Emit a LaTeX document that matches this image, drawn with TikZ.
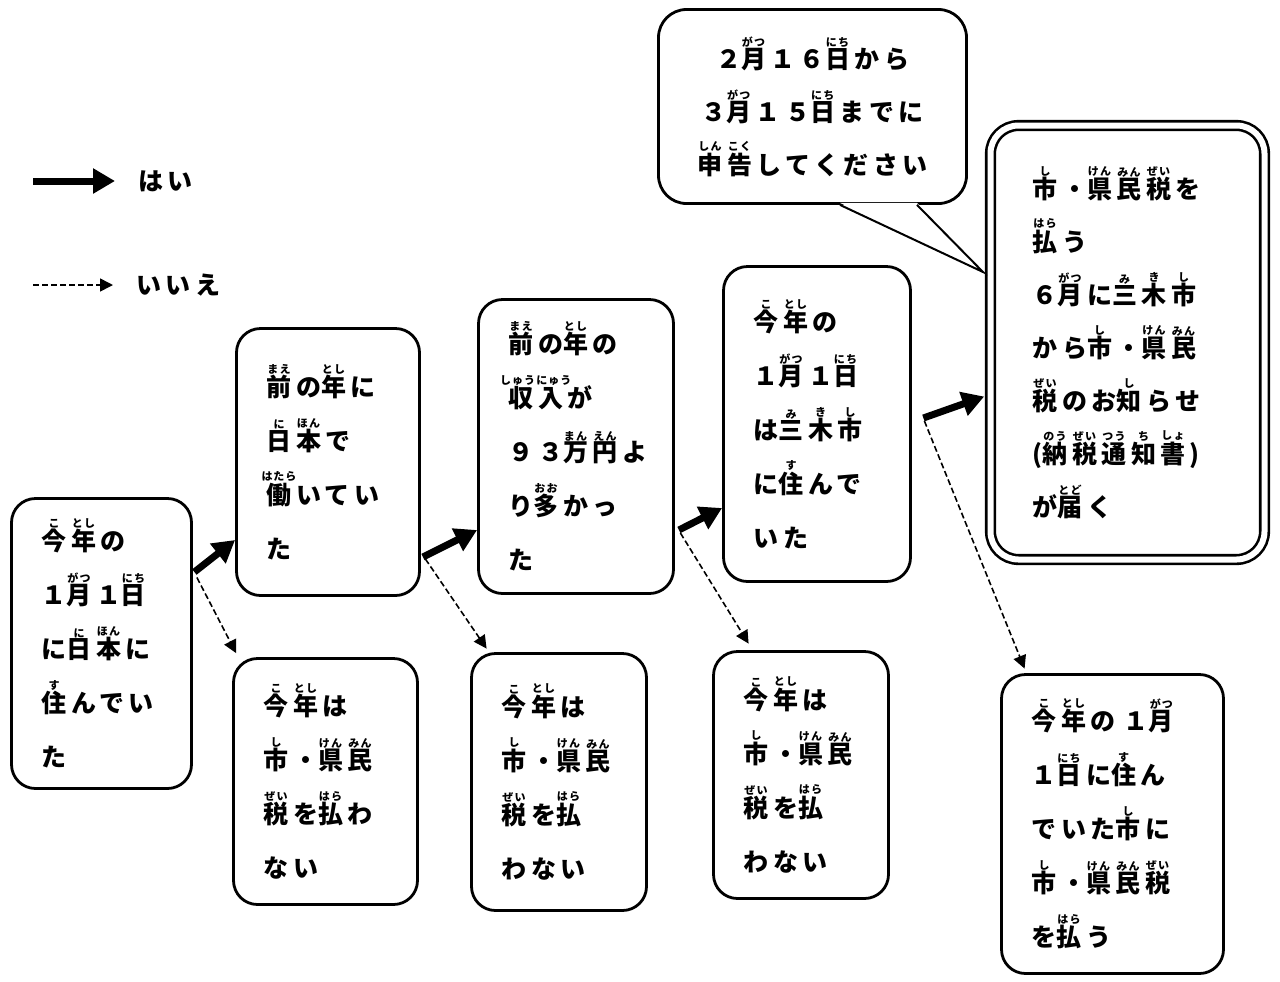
\documentclass[tikz,border=0pt]{standalone}
\usepackage{fontspec}
\usepackage{tikz}
\usetikzlibrary{arrows.meta}
\newfontfamily\jp{Noto Sans CJK JP}[LetterSpace=18]
\newfontfamily\jprb{Noto Sans CJK JP}[LetterSpace=10]
% kanji with its reading above
\newcommand\rb[2]{\leavevmode\vbox{\offinterlineskip\halign{\hfil##\hfil\cr\makebox[0pt]{\jprb\bfseries\fontsize{5.5}{6}\selectfont #2}\cr\noalign{\kern0.5pt}#1\cr}}\kern2.25pt}

\begin{document}
\begin{tikzpicture}[x=0.5pt,y=-0.5pt,
  jpfont/.style={font=\jp\bfseries\fontsize{12.5}{27}\selectfont},
  qbox/.style={draw,line width=1.4pt,rounded corners=12pt,jpfont,align=left,inner xsep=15pt,inner ysep=0pt},
  resbox/.style={qbox,double,double distance=3pt,line width=1.3pt,rounded corners=14pt,inner xsep=21pt},
  yesarr/.style={-{Triangle[length=11pt,width=12pt]},line width=3.5pt},
  noarr/.style={-{Triangle[length=6.5pt,width=6.5pt]},line width=0.8pt,dash pattern=on 3pt off 1.5pt},
  legend/.style={jpfont,inner xsep=11.5pt}]
\useasboundingbox (0,0) rectangle (1280,981);

% legend
\coordinate (yesS) at (33,181);
\node[legend,anchor=west] (yesL) at (115,181) {はい};
\coordinate (noS) at (33,285);
\node[legend,anchor=west] (noL) at (113,285) {いいえ};
\draw[yesarr] (yesS) -- (yesL);
\draw[noarr] (noS) -- (noL);

% questions
\node[qbox,text width=60pt,minimum height=145pt] (injapan) at (101.5,643.5) {\rb{今}{こ}\rb{年}{とし}の\\１\rb{月}{がつ}１\rb{日}{にち}\\に\rb{日}{に}\rb{本}{ほん}に\\\rb{住}{す}んでい\\た};
\node[qbox,text width=61.5pt,minimum height=133.5pt] (worked) at (328,462) {\rb{前}{まえ}の\rb{年}{とし}に\\\rb{日}{に}\rb{本}{ほん}で\\\rb{働}{はたら}いてい\\た};
\node[qbox,text width=67.5pt,minimum height=147pt] (income) at (576,446.5) {\rb{前}{まえ}の\rb{年}{とし}の\\\rb{収入}{しゅうにゅう}が\\９３\rb{万}{まん}\rb{円}{えん}よ\\り\rb{多}{おお}かっ\\た};
\node[qbox,text width=63.5pt,minimum height=157.5pt] (inmiki) at (817,424) {\rb{今}{こ}\rb{年}{とし}の\\１\rb{月}{がつ}１\rb{日}{にち}\\は\rb{三}{み}\rb{木}{き}\rb{市}{し}\\に\rb{住}{す}んで\\いた};
\node[resbox,text width=95pt,minimum height=217pt,font=\jp\bfseries\fontsize{12.5}{26.5}\selectfont] (pay) at (1127.5,342.5) {\rb{市}{し}・\rb{県}{けん}\rb{民}{みん}\rb{税}{ぜい}を\\\rb{払}{はら}う\\６\rb{月}{がつ}に\rb{三}{み}\rb{木}{き}\rb{市}{し}\\から\rb{市}{し}・\rb{県}{けん}\rb{民}{みん}\\\rb{税}{ぜい}のお\rb{知}{し}らせ\\(\rb{納}{のう}\rb{税}{ぜい}\rb{通}{つう}\rb{知}{ち}\rb{書}{しょ})\\が\rb{届}{とど}く};

% answers
\node[qbox,text width=62pt,minimum height=123pt] (nopay1) at (325.5,781.5) {\rb{今}{こ}\rb{年}{とし}は\\\rb{市}{し}・\rb{県}{けん}\rb{民}{みん}\\\rb{税}{ぜい}を\rb{払}{はら}わ\\ない};
\node[qbox,text width=57.5pt,minimum height=128.5pt] (nopay2) at (559,782) {\rb{今}{こ}\rb{年}{とし}は\\\rb{市}{し}・\rb{県}{けん}\rb{民}{みん}\\\rb{税}{ぜい}を\rb{払}{はら}\\わない};
\node[qbox,text width=57.5pt,minimum height=123.5pt] (nopay3) at (801,775) {\rb{今}{こ}\rb{年}{とし}は\\\rb{市}{し}・\rb{県}{けん}\rb{民}{みん}\\\rb{税}{ぜい}を\rb{払}{はら}\\わない};
\node[qbox,text width=81pt,minimum height=149.5pt] (payother) at (1112.5,824) {\rb{今}{こ}\rb{年}{とし}の １\rb{月}{がつ}\\１\rb{日}{にち}に\rb{住}{す}ん\\でいた\rb{市}{し}に\\\rb{市}{し}・\rb{県}{けん}\rb{民}{みん}\rb{税}{ぜい}\\を\rb{払}{はら}う};

% callout
\node[qbox,align=center,text width=124pt,minimum height=97pt,rounded corners=14pt,font=\jp\bfseries\fontsize{12.5}{26.5}\selectfont] (notice) at (812.5,106.5) {２\rb{月}{がつ}１６\rb{日}{にち}から\\３\rb{月}{がつ}１５\rb{日}{にち}までに\\\rb{申}{しん}\rb{告}{こく}してください};
\coordinate (tip) at (983,272);
\fill[white] ([xshift=13.75pt,yshift=1pt]notice.south) -- (tip) -- ([xshift=52.25pt,yshift=1pt]notice.south) -- cycle;
\draw[line width=1pt] ([xshift=13.75pt]notice.south) -- (tip) -- ([xshift=52.25pt]notice.south);

% yes
\draw[yesarr] ([xshift=0.75pt,yshift=35.75pt]injapan.east) -- ([yshift=-39pt]worked.west);
\draw[yesarr] ([xshift=1pt,yshift=-47.5pt]worked.east) -- ([yshift=-41.75pt]income.west);
\draw[yesarr] ([xshift=2pt,yshift=-41.75pt]income.east) -- ([yshift=-42pt]inmiki.west);
\draw[yesarr] ([xshift=5.75pt,yshift=3pt]inmiki.east) -- ([xshift=-2.5pt,yshift=-27pt]pay.west);

% no
\draw[noarr] ([xshift=2pt,yshift=33pt]injapan.east) -- ([xshift=2pt,yshift=2pt]nopay1.north west);
\draw[noarr] ([xshift=2.25pt,yshift=-48.5pt]worked.east) -- ([xshift=8.25pt,yshift=1.75pt]nopay2.north west);
\draw[noarr] ([xshift=2.75pt,yshift=-43.25pt]income.east) -- ([xshift=18.25pt,yshift=3.25pt]nopay3.north west);
\draw[noarr] ([xshift=6.25pt,yshift=1.5pt]inmiki.east) -- ([xshift=12.25pt,yshift=2.25pt]payother.north west);
\end{tikzpicture}
\end{document}
